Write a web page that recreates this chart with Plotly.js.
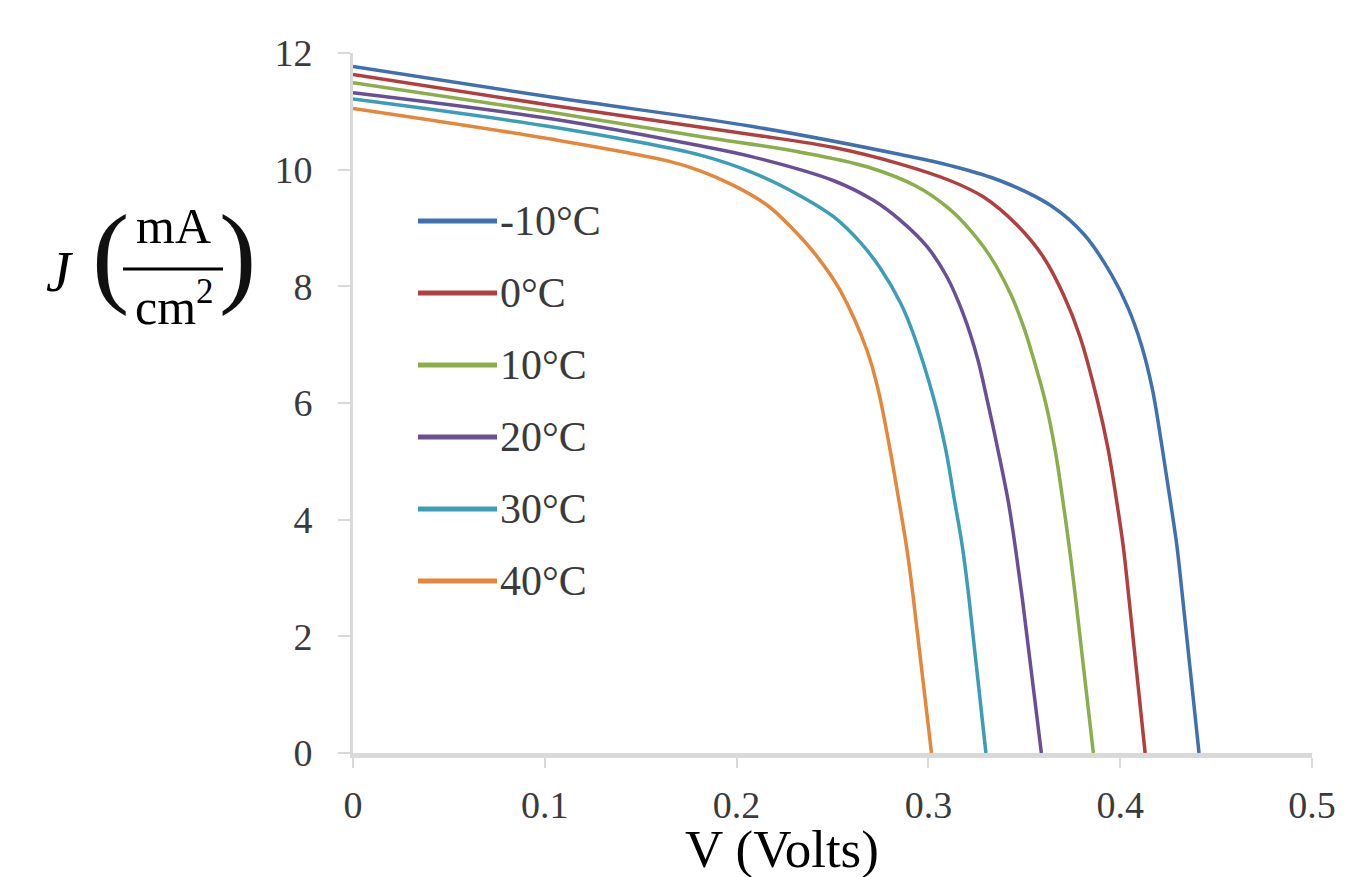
<!DOCTYPE html>
<html>
<head>
<meta charset="utf-8">
<script src="https://cdn.plot.ly/plotly-3.0.1.min.js"></script>
<style>html,body{margin:0;padding:0;background:#fff;}#chart{width:1357px;height:877px;}</style>
</head>
<body>
<div id="chart"></div>
<script>
// ---- data ----
const seriesNames = ["-10°C", "0°C", "10°C", "20°C", "30°C", "40°C"];
const seriesColors = ["#3f70b0", "#b0403f", "#8aae4a", "#6a4f95", "#3b9db7", "#e4873a"];

const vM10 = [0, 0.104, 0.2083, 0.2854, 0.3115, 0.3375, 0.364, 0.3814, 0.3953, 0.404, 0.411, 0.4167, 0.4218, 0.426, 0.4296, 0.4326, 0.4411];
const jM10 = [11.77, 11.24, 10.74, 10.26, 10.07, 9.81, 9.38, 8.88, 8.21, 7.64, 7.0, 6.25, 5.25, 4.35, 3.54, 2.64, 0];

const v0 = [0, 0.104, 0.2083, 0.2507, 0.285, 0.3115, 0.3288, 0.3462, 0.360, 0.3705, 0.379, 0.388, 0.3937, 0.398, 0.4016, 0.4046, 0.413];
const j0 = [11.63, 11.10, 10.60, 10.38, 10.10, 9.81, 9.53, 9.05, 8.50, 7.85, 7.14, 6.06, 5.21, 4.35, 3.54, 2.64, 0];

const v10 = [0, 0.104, 0.181, 0.2333, 0.268, 0.294, 0.3115, 0.3219, 0.3323, 0.3427, 0.3496, 0.354, 0.361, 0.366, 0.370, 0.3734, 0.3768, 0.386];
const j10 = [11.49, 10.98, 10.57, 10.30, 10.05, 9.71, 9.31, 8.96, 8.51, 7.88, 7.31, 6.85, 6.02, 5.21, 4.35, 3.54, 2.64, 0];

const v20 = [0, 0.104, 0.181, 0.2083, 0.2507, 0.2715, 0.2854, 0.2993, 0.3097, 0.318, 0.3254, 0.331, 0.3375, 0.3417, 0.345, 0.349, 0.3589];
const j20 = [11.32, 10.87, 10.41, 10.22, 9.81, 9.47, 9.13, 8.68, 8.16, 7.54, 6.79, 6.0, 5.0, 4.3, 3.6, 2.64, 0];

const v30 = [0, 0.104, 0.181, 0.2083, 0.2333, 0.2507, 0.2646, 0.2745, 0.2854, 0.292, 0.3026, 0.309, 0.3135, 0.3177, 0.3212, 0.330];
const j30 = [11.21, 10.73, 10.25, 9.95, 9.55, 9.19, 8.75, 8.33, 7.72, 7.20, 6.10, 5.21, 4.35, 3.54, 2.64, 0];

const v40 = [0, 0.104, 0.164, 0.181, 0.1984, 0.216, 0.2297, 0.242, 0.254, 0.268, 0.274, 0.280, 0.2845, 0.289, 0.2922, 0.3016];
const j40 = [11.05, 10.52, 10.15, 9.98, 9.73, 9.39, 8.97, 8.51, 7.93, 6.9, 6.2, 5.2, 4.35, 3.45, 2.64, 0];

const xTickVals = [0, 0.1, 0.2, 0.3, 0.4, 0.5];
const xTickText = ["0", "0.1", "0.2", "0.3", "0.4", "0.5"];
const yTickVals = [0, 2, 4, 6, 8, 10, 12];
const yTickText = ["0", "2", "4", "6", "8", "10", "12"];

const xTitle = "V (Volts)";

// ---- layout geometry ----
const W = 1357, H = 877;
const L = 353, R = 1312, T = 53, B = 753;
const px2x = p => (p - L) / (R - L);
const py2y = p => (B - p) / (B - T);
const serif = "Liberation Serif, Times New Roman, serif";

const xs = [vM10, v0, v10, v20, v30, v40];
const ys = [jM10, j0, j10, j20, j30, j40];

const traces = seriesNames.map((n, i) => ({
  x: xs[i], y: ys[i], name: n, type: "scatter", mode: "lines",
  line: {color: seriesColors[i], width: 3.5, shape: "spline", smoothing: 1},
  showlegend: false, hoverinfo: "x+y+name"
}));

const shapes = [];
const annotations = [];
// custom legend (long line samples like the original)
seriesNames.forEach((n, i) => {
  const py = 221 + 72 * i;
  shapes.push({type: "line", xref: "paper", yref: "paper",
    x0: px2x(418), x1: px2x(497), y0: py2y(py), y1: py2y(py),
    line: {color: seriesColors[i], width: 5}});
  annotations.push({xref: "paper", yref: "paper", x: px2x(498), y: py2y(py),
    xanchor: "left", yanchor: "middle", showarrow: false, text: n,
    font: {family: serif, size: 42, color: "#3a3a3a"}});
});

// x title
annotations.push({xref: "paper", yref: "paper", x: px2x(782), y: py2y(849),
  xanchor: "center", yanchor: "middle", showarrow: false, text: xTitle,
  font: {family: serif, size: 53, color: "#000"}});

// y title: J (mA / cm^2) as a stacked fraction
annotations.push({xref: "paper", yref: "paper", x: px2x(60), y: py2y(272),
  xanchor: "center", yanchor: "middle", showarrow: false, text: "<i>J</i>",
  font: {family: serif, size: 56, color: "#000"}});
annotations.push({xref: "paper", yref: "paper", x: px2x(111), y: py2y(254),
  xanchor: "center", yanchor: "middle", showarrow: false, text: "(",
  font: {family: serif, size: 112, color: "#111"}});
annotations.push({xref: "paper", yref: "paper", x: px2x(237), y: py2y(254),
  xanchor: "center", yanchor: "middle", showarrow: false, text: ")",
  font: {family: serif, size: 112, color: "#111"}});
annotations.push({xref: "paper", yref: "paper", x: px2x(173), y: py2y(226),
  xanchor: "center", yanchor: "middle", showarrow: false, text: "mA",
  font: {family: serif, size: 50, color: "#000"}});
annotations.push({xref: "paper", yref: "paper", x: px2x(174), y: py2y(303),
  xanchor: "center", yanchor: "middle", showarrow: false, text: "cm<sup>2</sup>",
  font: {family: serif, size: 50, color: "#000"}});
shapes.push({type: "line", xref: "paper", yref: "paper",
  x0: px2x(123), x1: px2x(223), y0: py2y(269), y1: py2y(269),
  line: {color: "#000", width: 3}});

const layout = {
  width: W, height: H,
  margin: {l: L, r: W - R, t: T, b: H - B, pad: 0},
  paper_bgcolor: "#fff", plot_bgcolor: "#fff",
  showlegend: false,
  xaxis: {
    range: [0, 0.5], tickmode: "array", tickvals: xTickVals, ticktext: xTickText,
    showgrid: false, zeroline: false, showline: true, linecolor: "#d9d9d9", linewidth: 5,
    ticks: "outside", ticklen: 10, tickwidth: 2, tickcolor: "#d9d9d9",
    ticklabelstandoff: 4,
    tickfont: {family: serif, size: 38, color: "#3a3a3a"}
  },
  yaxis: {
    range: [0, 12], tickmode: "array", tickvals: yTickVals, ticktext: yTickText,
    showgrid: false, zeroline: false, showline: true, linecolor: "#d9d9d9", linewidth: 3,
    ticks: "outside", ticklen: 12, tickwidth: 2, tickcolor: "#d9d9d9",
    ticklabelstandoff: 18,
    tickfont: {family: serif, size: 38, color: "#3a3a3a"}
  },
  shapes: shapes,
  annotations: annotations
};

Plotly.newPlot("chart", traces, layout, {displayModeBar: false, staticPlot: true});
</script>
</body>
</html>
